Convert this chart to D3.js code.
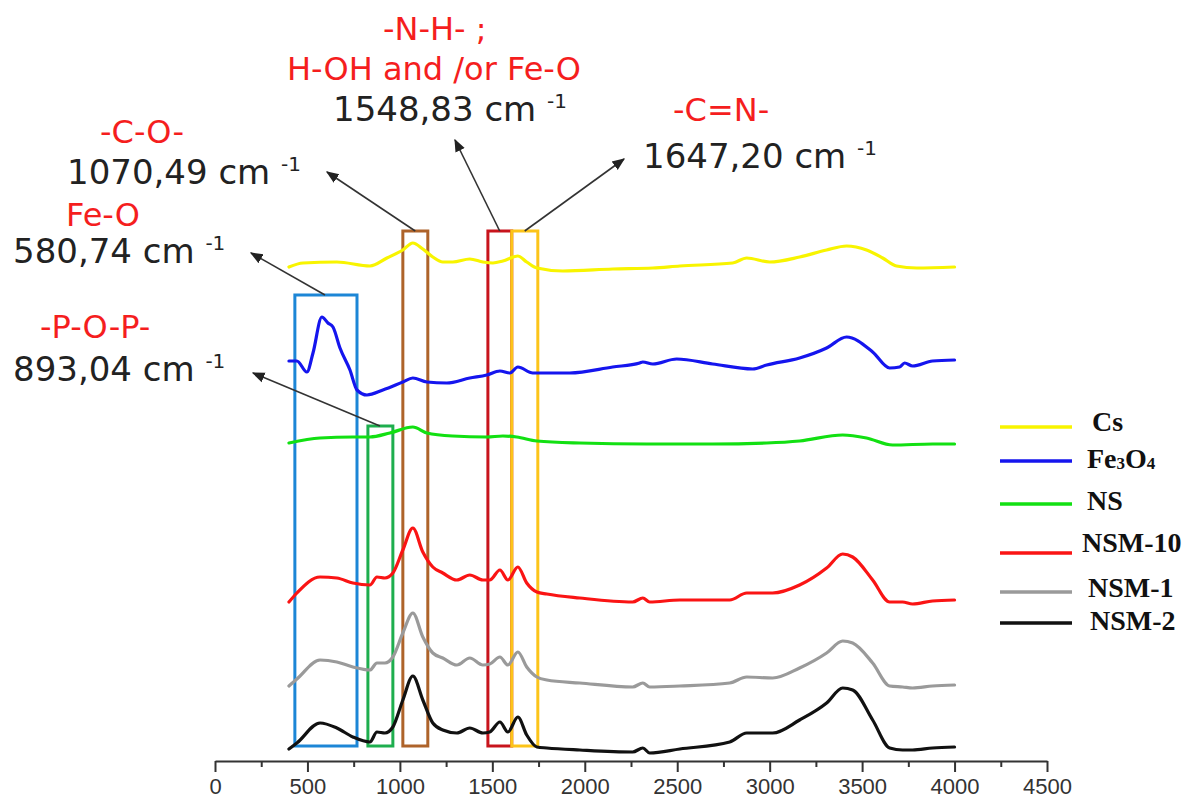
<!DOCTYPE html>
<html>
<head>
<meta charset="utf-8">
<script src="https://cdn.jsdelivr.net/npm/d3@7"></script>
<style>
  body { margin: 0; background: #fff; }
  svg { display: block; }
</style>
</head>
<body>
<svg id="chart" width="1192" height="798"></svg>
<script>
// FTIR spectra, [wavenumber (cm-1), stacked transmittance (a.u.)]
const csSpectrum = [[400,494],[476,498],[659,499],[838,495],[930,503],[1016,511],[1070,518],[1124,512],[1178,504],[1232,499],[1286,499],[1378,502],[1449,499],[1503,498],[1557,500],[1638,505],[1686,499],[1741,493],[1881,490],[2151,492],[2368,493],[2514,495],[2800,498],[2876,503],[3000,499],[3162,504],[3308,511],[3416,515],[3524,511],[3611,503],[3686,495],[3795,493],[4000,494]];
const fe3o4Spectrum = [[400,400],[443,400],[497,389],[530,408],[578,444],[611,438],[638,434],[676,413],[730,391],[768,371],[822,366],[908,371],[1016,379],[1070,383],[1146,379],[1254,378],[1378,383],[1470,386],[1541,390],[1595,388],[1638,394],[1719,388],[1919,388],[2151,394],[2297,398],[2314,399],[2368,397],[2497,402],[2692,397],[2908,392],[2984,396],[3162,403],[3308,413],[3416,424],[3557,409],[3649,393],[3703,394],[3730,398],[3773,395],[3881,400],[4000,401]];
const nsSpectrum = [[400,318],[568,323],[746,324],[838,324],[946,328],[1070,334],[1146,328],[1286,325],[1470,324],[1557,325],[1632,324],[1741,320],[1973,318],[2335,317],[2692,317],[2984,318],[3162,320],[3395,326],[3524,323],[3665,316],[3881,317],[4000,317]];
const nsm10Spectrum = [[400,159],[443,168],[568,184],[659,183],[746,178],[838,176],[876,184],[919,183],[962,188],[1016,211],[1070,233],[1124,209],[1178,194],[1232,188],[1308,181],[1378,186],[1449,181],[1486,181],[1541,191],[1584,181],[1638,194],[1686,178],[1741,169],[1795,167],[1973,163],[2259,159],[2314,163],[2351,159],[2514,161],[2784,161],[2876,168],[3016,168],[3162,176],[3308,193],[3395,207],[3449,204],[3557,181],[3649,159],[3719,159],[3773,157],[3881,160],[4000,161]];
const nsm1Spectrum = [[400,75],[443,82],[568,101],[659,99],[746,94],[838,91],[876,98],[919,98],[962,104],[1016,128],[1070,148],[1124,124],[1178,108],[1232,103],[1308,96],[1378,103],[1449,96],[1486,97],[1541,104],[1584,96],[1638,109],[1686,94],[1741,84],[1795,81],[1973,78],[2259,74],[2314,78],[2351,74],[2514,75],[2784,78],[2876,84],[3016,83],[3162,93],[3308,108],[3395,120],[3449,118],[3557,98],[3649,75],[3719,74],[3773,73],[3881,75],[4000,76]];
const nsm2Spectrum = [[400,12],[443,18],[568,38],[659,33],[746,24],[838,19],[876,29],[919,28],[962,34],[1016,61],[1070,85],[1124,61],[1178,38],[1232,31],[1308,28],[1378,33],[1449,28],[1486,29],[1541,39],[1584,29],[1638,44],[1686,26],[1741,14],[1795,13],[1973,11],[2259,9],[2314,13],[2351,8],[2514,12],[2784,19],[2876,28],[3016,28],[3162,41],[3308,58],[3395,73],[3449,71],[3557,41],[3649,13],[3719,11],[3773,11],[3881,13],[4000,14]];

const seriesNames = ["Cs", "Fe3O4", "NS", "NSM-10", "NSM-1", "NSM-2"];
const seriesData = [csSpectrum, fe3o4Spectrum, nsSpectrum, nsm10Spectrum, nsm1Spectrum, nsm2Spectrum];

// Assigned absorption bands
const bandLabels = [["Fe-O"], ["-P-O-P-"], ["-C-O-"], ["-N-H- ;", "H-OH and /or Fe-O"], ["-C=N-"]];
const bandPeaks = ["580,74", "893,04", "1070,49", "1548,83", "1647,20"];
const bandRanges = [[432, 768], [827, 962], [1016, 1151], [1476, 1605], [1605, 1746]];
const bandTops = [466, 335, 530, 530, 530];
const bandFloor = 15;

const xTicks = [0, 500, 1000, 1500, 2000, 2500, 3000, 3500, 4000, 4500];

// ---- layout & styles ----
const seriesColors = ["#f8f400", "#1515ee", "#12e012", "#fa1414", "#9a9a9a", "#111111"];
const bandColors = ["#1c86d6", "#1eae4e", "#ae632a", "#c8141c", "#fcc419"];
const axisY = 761;

const svg = d3.select("#chart");
const x = d3.scaleLinear().domain([0, 4500]).range([215, 1047]);
const y = d3.scaleLinear().domain([0, 761]).range([axisY, 0]);

// x axis
const axisG = svg.append("g").attr("transform", `translate(0,${axisY})`);
axisG.call(d3.axisBottom(x).tickValues(xTicks).tickFormat(d3.format("d"))
      .tickSize(11).tickSizeOuter(0).tickPadding(6))
  .call(g => g.select(".domain").attr("stroke", "#333").attr("stroke-width", 2))
  .call(g => g.selectAll(".tick line").attr("stroke", "#333").attr("stroke-width", 2))
  .call(g => g.selectAll(".tick text").attr("fill", "#333")
      .attr("font-family", "Liberation Sans, Arial, sans-serif").attr("font-size", 22));
axisG.append("g")
  .call(d3.axisBottom(x).tickValues(d3.range(250, 4500, 500)).tickSize(6).tickFormat(""))
  .call(g => g.select(".domain").remove())
  .call(g => g.selectAll(".tick line").attr("stroke", "#333").attr("stroke-width", 2));

// band boxes
const boxG = svg.append("g");
bandRanges.forEach((r, i) => {
  boxG.append("rect")
    .attr("x", x(r[0])).attr("y", y(bandTops[i]))
    .attr("width", x(r[1]) - x(r[0]))
    .attr("height", y(bandFloor) - y(bandTops[i]))
    .attr("fill", "none").attr("stroke", bandColors[i]).attr("stroke-width", 3);
});

// spectra
const line = d3.line().x(d => x(d[0])).y(d => y(d[1])).curve(d3.curveMonotoneX);
const specG = svg.append("g");
seriesData.forEach((s, i) => {
  specG.append("path").datum(s)
    .attr("d", line).attr("fill", "none")
    .attr("stroke", seriesColors[i]).attr("stroke-width", 3.2)
    .attr("stroke-linejoin", "round").attr("stroke-linecap", "round");
});

// annotations
svg.append("defs").append("marker")
  .attr("id", "arrow").attr("viewBox", "0 0 10 10").attr("refX", 9).attr("refY", 5)
  .attr("markerWidth", 8).attr("markerHeight", 8).attr("orient", "auto")
  .append("path").attr("d", "M0,1 L10,5 L0,9 Z").attr("fill", "#222");

const notes = [
  { labelPos: [[66, 226]], peakPos: [13, 263], head: [251, 253], tailWn: 595 },
  { labelPos: [[40, 338]], peakPos: [13, 381], head: [253, 373], tailWn: 892 },
  { labelPos: [[100, 143]], peakPos: [67, 184], head: [327, 172], tailWn: 1083 },
  { labelPos: [[383, 40], [287, 80]], peakPos: [333, 121], head: [455, 140], tailWn: 1540 },
  { labelPos: [[673, 121]], peakPos: [643, 168], head: [624, 159], tailWn: 1675 }
];
const annG = svg.append("g").attr("font-family", "DejaVu Sans, sans-serif");
notes.forEach((n, i) => {
  bandLabels[i].forEach((t, j) => {
    annG.append("text").attr("x", n.labelPos[j][0]).attr("y", n.labelPos[j][1])
      .attr("fill", "#f51e1e").attr("font-size", 32).text(t);
  });
  const pt = annG.append("text").attr("x", n.peakPos[0]).attr("y", n.peakPos[1])
    .attr("fill", "#222").attr("font-size", 34);
  pt.append("tspan").text(bandPeaks[i] + " cm ");
  pt.append("tspan").attr("font-size", 20).attr("dy", -13).text("-1");
  annG.append("line")
    .attr("x1", x(n.tailWn)).attr("y1", y(bandTops[i]))
    .attr("x2", n.head[0]).attr("y2", n.head[1])
    .attr("stroke", "#333").attr("stroke-width", 1.6)
    .attr("marker-end", "url(#arrow)");
});

// legend
const legendY = [427, 461, 504, 553, 592, 623];
const legendBase = [431, 468, 510, 552, 597, 630];
const legendTextX = [1092, 1087, 1087, 1082, 1088, 1090];
const legG = svg.append("g").attr("font-family", "Liberation Serif, Times New Roman, serif")
  .attr("font-weight", "bold").attr("font-size", 28).attr("fill", "#111");
seriesNames.forEach((name, i) => {
  legG.append("line").attr("x1", 1000).attr("x2", 1072)
    .attr("y1", legendY[i]).attr("y2", legendY[i])
    .attr("stroke", seriesColors[i]).attr("stroke-width", 3.5);
  const t = legG.append("text").attr("x", legendTextX[i]).attr("y", legendBase[i]);
  if (name === "Fe3O4") {
    t.append("tspan").text("Fe");
    t.append("tspan").attr("font-size", 17).attr("dy", 1).text("3");
    t.append("tspan").attr("dy", -1).text("O");
    t.append("tspan").attr("font-size", 17).attr("dy", 1).text("4");
  } else {
    t.text(name);
  }
});
</script>
</body>
</html>
